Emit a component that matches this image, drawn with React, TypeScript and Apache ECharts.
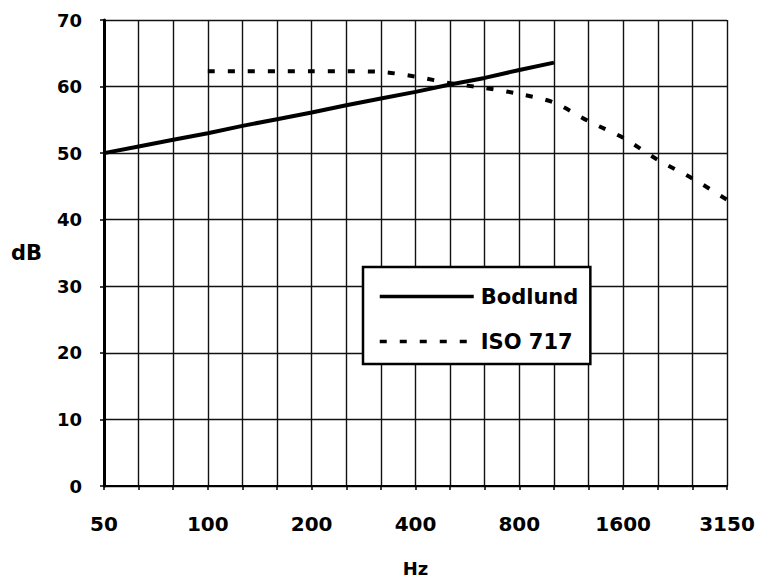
import React, { useEffect, useRef } from "react";
import * as echarts from "echarts";

const categories = ["50", "63", "80", "100", "125", "160", "200", "250", "315", "400", "500", "630", "800", "1000", "1250", "1600", "2000", "2500", "3150"];
const bodlund = [50, 51, 52, 53, 54.1, 55.1, 56.1, 57.2, 58.2, 59.2, 60.3, 61.3, 62.5, 63.6, null, null, null, null, null];
const iso717 = [null, null, null, 62.3, 62.3, 62.3, 62.3, 62.3, 62.2, 61.5, 60.5, 59.8, 58.9, 57.6, 54.8, 52.3, 49, 46.2, 43];
const yTicks = { min: 0, max: 70, interval: 10 };

const FONT = "DejaVu Sans";

export default function App() {
  const ref = useRef<HTMLDivElement>(null);
  useEffect(() => {
    if (!ref.current) return;
    const chart = echarts.init(ref.current, undefined, { renderer: "svg" });
    chart.setOption({
      animation: false,
      backgroundColor: "#fff",
      grid: { left: 104, right: 32, top: 20, bottom: 95, containLabel: false, outerBoundsMode: "none" },
      xAxis: {
        type: "category",
        data: categories,
        boundaryGap: false,
        name: "Hz",
        nameLocation: "middle",
        nameGap: 73,
        nameTextStyle: { fontFamily: FONT, fontWeight: "bold", fontSize: 18, color: "#000" },
        axisLine: { lineStyle: { color: "#000", width: 2 } },
        axisTick: { show: true, interval: 0, length: 4, lineStyle: { color: "#000", width: 1.5 } },
        axisLabel: {
          interval: 2,
          margin: 28,
          fontFamily: FONT,
          fontWeight: "bold",
          fontSize: 20,
          color: "#000",
        },
        splitLine: { show: true, interval: 0, lineStyle: { color: "#111", width: 1.4 } },
      },
      yAxis: {
        type: "value",
        min: yTicks.min,
        max: yTicks.max,
        interval: yTicks.interval,
        name: "dB",
        nameLocation: "middle",
        nameRotate: 0,
        nameGap: 62,
        nameTextStyle: { fontFamily: FONT, fontWeight: "bold", fontSize: 21, color: "#000", padding: [10, 0, 0, 0] },
        axisLine: { show: true, lineStyle: { color: "#000", width: 3 } },
        axisTick: { show: true, length: 4, lineStyle: { color: "#000", width: 1.5 } },
        axisLabel: { margin: 22, fontFamily: FONT, fontWeight: "bold", fontSize: 18, color: "#000" },
        splitLine: { show: true, lineStyle: { color: "#111", width: 1.4 } },
      },
      legend: {
        orient: "vertical",
        left: 363,
        top: 267,
        itemWidth: 94,
        itemHeight: 20,
        itemGap: 24,
        padding: [19, 12, 12, 15],
        backgroundColor: "#fff",
        borderColor: "#000",
        borderWidth: 2.5,
        itemStyle: { opacity: 0 },
        lineStyle: { width: 3.5 },
        textStyle: { fontFamily: FONT, fontWeight: "bold", fontSize: 21, color: "#000", padding: [0, 0, 0, 2] },
        data: ["Bodlund", "ISO 717"],
      },
      series: [
        {
          name: "Bodlund",
          type: "line",
          data: bodlund,
          symbol: "none",
          showSymbol: false,
          lineStyle: { color: "#000", width: 4 },
          itemStyle: { color: "#000" },
          z: 3,
        },
        {
          name: "ISO 717",
          type: "line",
          data: iso717,
          symbol: "none",
          showSymbol: false,
          smooth: 0.3,
          lineStyle: { color: "#000", width: 4, type: [7, 13] },
          itemStyle: { color: "#000" },
          z: 3,
        },
      ],
    });
    return () => chart.dispose();
  }, []);
  return <div ref={ref} style={{ width: 759, height: 581, position: "absolute", left: 0, top: 0 }} />;
}
